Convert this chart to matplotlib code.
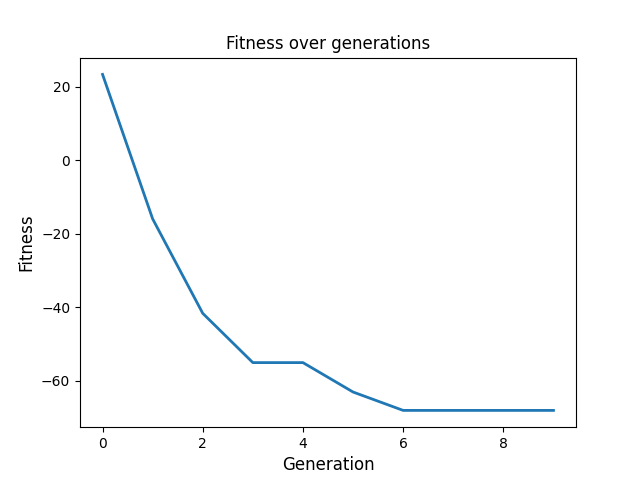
import matplotlib
matplotlib.use("Agg")
import matplotlib.pyplot as plt

# Valores
generations = [0, 1, 2, 3, 4, 5, 6, 7, 8, 9]
fitness = [23.4, -15.9, -41.6, -55.0, -55.0, -63.0, -68.0, -68.0, -68.0, -68.0]

fig, ax = plt.subplots(figsize=(6.4, 4.8), dpi=100)
ax.plot(generations, fitness, color='#1f77b4', linewidth=2)
ax.set_title('Fitness over generations')
ax.set_xlabel('Generation', fontsize=12)
ax.set_ylabel('Fitness', fontsize=12)
fig.savefig('out.png')
